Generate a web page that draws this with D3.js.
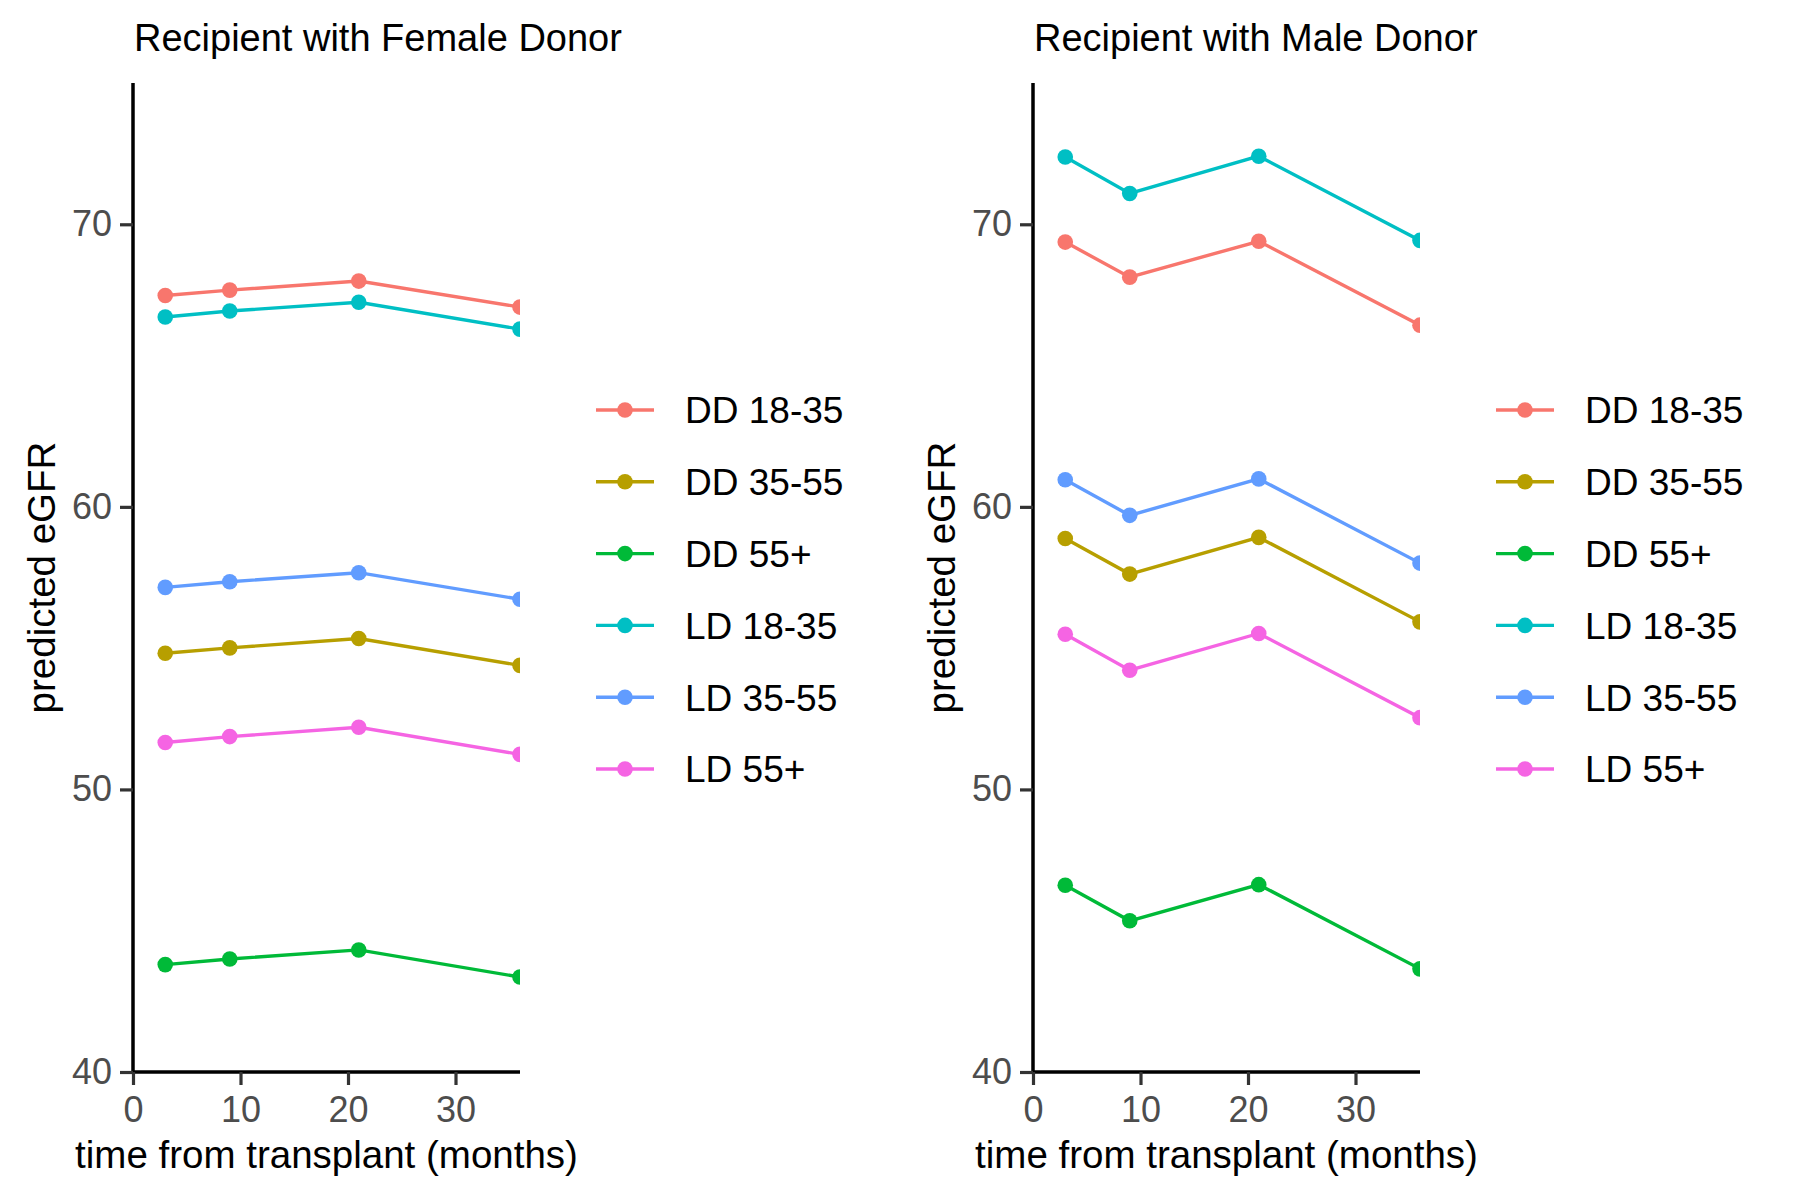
<!DOCTYPE html>
<meta charset="utf-8">
<html lang="en"></html>

<!-- load d3.js -->
<script src="https://d3js.org/d3.v7.min.js"></script>

<style>
    body { margin: 0; background: #fff; }
    text { font-family: "Liberation Sans", Arial, sans-serif; }
</style>

<div id="chart"></div>

<script>

    // data
    const months = [3, 9, 21, 36];
    const groups = ["DD 18-35", "DD 35-55", "DD 55+", "LD 18-35", "LD 35-55", "LD 55+"];
    const colours = ["#F8766D", "#B79F00", "#00BA38", "#00BFC4", "#619CFF", "#F564E3"];

    // one row per group, same order as groups
    const femaleValues = [
        [67.48, 67.67, 67.99, 67.07],
        [54.82, 55.01, 55.34, 54.39],
        [43.80, 44.00, 44.32, 43.36],
        [66.72, 66.93, 67.24, 66.29],
        [57.15, 57.35, 57.67, 56.73],
        [51.66, 51.87, 52.20, 51.24]
    ];
    const maleValues = [
        [69.37, 68.13, 69.40, 66.43],
        [58.88, 57.62, 58.92, 55.93],
        [46.61, 45.35, 46.63, 43.65],
        [72.38, 71.09, 72.41, 69.43],
        [60.96, 59.70, 60.99, 58.01],
        [55.49, 54.22, 55.52, 52.54]
    ];

    const xTicks = [0, 10, 20, 30];
    const yTicks = [40, 50, 60, 70];

    const W = 1800, H = 1200;
    const panelW = 387, panelTop = 83, panelBottom = 1072;

    const svg = d3.select("#chart")
        .append("svg")
            .attr("width", W)
            .attr("height", H);

    function drawPanel(x0, title, values, id) {
        const h = panelBottom - panelTop;
        const x = d3.scaleLinear().domain([0, 36]).range([0, panelW]);
        const y = d3.scaleLinear().domain([40, 75]).range([h, 0]);

        const g = svg.append("g")
            .attr("transform", "translate(" + x0 + "," + panelTop + ")");

        g.append("clipPath")
            .attr("id", "clip" + id)
            .append("rect")
                .attr("x", 0).attr("y", 0)
                .attr("width", panelW).attr("height", h);

        // series
        const plot = g.append("g").attr("clip-path", "url(#clip" + id + ")");
        const line = d3.line()
            .x(function(d, i) { return x(months[i]); })
            .y(function(d) { return y(d); });

        values.forEach(function(vals, k) {
            plot.append("path")
                .attr("d", line(vals))
                .attr("fill", "none")
                .attr("stroke", colours[k])
                .attr("stroke-width", 3.4);
            plot.selectAll(null)
                .data(vals)
                .enter()
                .append("circle")
                    .attr("cx", function(d, i) { return x(months[i]); })
                    .attr("cy", function(d) { return y(d); })
                    .attr("r", 7.8)
                    .attr("fill", colours[k]);
        });

        // X axis
        const xa = g.append("g")
            .attr("transform", "translate(0," + h + ")")
            .call(d3.axisBottom(x).tickValues(xTicks).tickSize(13).tickPadding(11));
        // Y axis
        const ya = g.append("g")
            .call(d3.axisLeft(y).tickValues(yTicks).tickSize(13).tickPadding(8));

        [xa, ya].forEach(function(a) {
            a.select(".domain").attr("stroke", "#000").attr("stroke-width", 3.5);
            a.selectAll(".tick line").attr("stroke", "#333333").attr("stroke-width", 3.2);
            a.selectAll(".tick text")
                .attr("fill", "#4D4D4D")
                .style("font-size", "36px")
                .style("font-family", "'Liberation Sans', Arial, sans-serif");
        });
        xa.select(".domain").attr("d", "M0,0H" + panelW);
        ya.select(".domain").attr("d", "M0," + h + "V0");

        // title
        g.append("text")
            .text(title)
            .attr("x", 1)
            .attr("y", 51 - panelTop)
            .style("font-size", "38px");

        // axis titles
        g.append("text")
            .text("time from transplant (months)")
            .attr("x", panelW / 2)
            .attr("y", 1168 - panelTop)
            .attr("text-anchor", "middle")
            .style("font-size", "38.5px");
        g.append("text")
            .text("predicted eGFR")
            .attr("transform", "translate(-78," + (h / 2) + ")rotate(-90)")
            .attr("text-anchor", "middle")
            .style("font-size", "38.5px");

        // legend
        const leg = g.append("g")
            .attr("transform", "translate(0," + (410 - panelTop) + ")");
        groups.forEach(function(name, k) {
            const row = leg.append("g")
                .attr("transform", "translate(0," + (k * 71.8) + ")");
            row.append("line")
                .attr("x1", 463).attr("x2", 521)
                .attr("y1", 0).attr("y2", 0)
                .attr("stroke", colours[k])
                .attr("stroke-width", 3.4);
            row.append("circle")
                .attr("cx", 492).attr("cy", 0)
                .attr("r", 7.8)
                .attr("fill", colours[k]);
            row.append("text")
                .text(name)
                .attr("x", 552)
                .attr("y", 0)
                .attr("dy", "0.36em")
                .style("font-size", "37px");
        });
    }

    drawPanel(133, "Recipient with Female Donor", femaleValues, 1);
    drawPanel(1033, "Recipient with Male Donor", maleValues, 2);

</script>
